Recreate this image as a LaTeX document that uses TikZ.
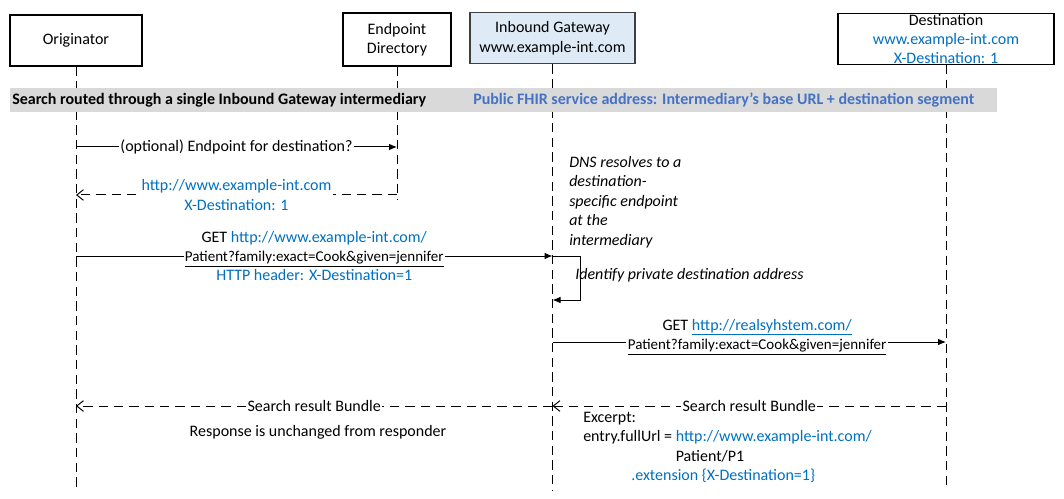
\documentclass[tikz,border=0pt]{standalone}
\usepackage{fontspec}
\setmainfont{Carlito}
\usetikzlibrary{arrows.meta}
\definecolor{linkblue}{HTML}{0070C0}
\definecolor{bandblue}{HTML}{4472C4}
\definecolor{bandgray}{HTML}{D9D9D9}
\definecolor{gwfill}{HTML}{DEEBF7}
\definecolor{gwline}{HTML}{404040}
\newcommand{\querytext}{\fontsize{11.25}{14.5}\selectfont\underline{Patient?family:exact=Cook\&given=jennifer}}

\begin{document}
\begin{tikzpicture}[
		x=0.75pt, y=-0.75pt,
		font=\fontsize{12}{14.5}\selectfont,
		lane/.style={draw, line width=0.8pt, inner sep=0pt, align=center},
		lifeline/.style={line width=0.75pt, dash pattern=on 7pt off 4pt},
		arrow/.style={line width=0.75pt, -{Latex[length=6pt,width=5pt]}},
		rarrow/.style={line width=0.75pt, dash pattern=on 7pt off 4.5pt, -{Straight Barb[length=5pt,width=8pt]}},
		msg/.style={fill=white, inner sep=1pt, align=center},
		note/.style={font=\fontsize{12}{14.6}\selectfont\itshape, align=left, inner sep=0pt},
	]
		\useasboundingbox (0,0) rectangle (1064,499);

		% participants
		\node at (76,40.5) (orig) [lane, minimum width=99pt, minimum height=38.25pt] {Originator};
		\node at (397,39.5) (epd) [lane, minimum width=81pt, minimum height=39.75pt] {Endpoint\\Directory};
		\node at (552.5,38.3) (igw) [lane, draw=gwline, fill=gwfill, minimum width=123.75pt, minimum height=38.25pt] {Inbound Gateway\\www.example-int.com};
		\node at (946,39) (dest) [lane, minimum width=162pt, minimum height=38.25pt] {};
		\node at (dest.center) (destlbl) [align=center, inner sep=0pt] {Destination\\\textcolor{linkblue}{www.example-int.com}\\\textcolor{linkblue}{X-Destination: 1}};

		% lifelines
		\coordinate (bottom) at (0,490);
		\coordinate (epdend) at (0,200);
		\draw[lifeline] (orig.south) -- (orig |- bottom);
		\draw[lifeline] (epd.south) -- (epd |- epdend);
		\draw[lifeline] (igw.south) -- (igw |- bottom);
		\draw[lifeline] (dest.south) -- (dest |- bottom);

		% title band
		\node at (10,88) (band) [anchor=north west, fill=bandgray, minimum width=740.25pt, minimum height=18pt, inner sep=0pt] {};
		\node at (12,100) (bandtitle) [anchor=west, inner sep=0pt, font=\fontsize{12}{14.5}\selectfont\bfseries] {Search routed through a single Inbound Gateway intermediary};
		\node at (473,100) (bandaddr) [anchor=west, inner sep=0pt, text=bandblue, font=\fontsize{12}{14.5}\selectfont\bfseries] {Public FHIR service address: Intermediary’s base URL + destination segment};

		% messages
		\coordinate (m1) at (0,147);
		\coordinate (m2) at (0,195);
		\coordinate (m3) at (0,256);
		\coordinate (m4) at (0,300);
		\coordinate (m5) at (0,342);
		\coordinate (m6) at (0,406);

		\draw[arrow] (orig |- m1) -- node[msg]{(optional) Endpoint for destination?} (epd |- m1);
		\draw[rarrow] (epd |- m2) -- node[msg, text=linkblue]{http://www.example-int.com\\X-Destination: 1} (orig |- m2);
		\draw[arrow] (orig |- m3) -- node[msg]{GET \textcolor{linkblue}{http://www.example-int.com/}\\\querytext\\\textcolor{linkblue}{HTTP header: X-Destination=1}} (igw |- m3);

		\node at (569,202) (dnsnote) [note, anchor=west] {DNS resolves to a\\destination-\\specific endpoint\\at the\\intermediary};
		\draw[arrow] (igw |- m3) -- ++(28,0) |- (igw |- m4);
		\node at (575,275) (idnote) [note, anchor=west] {Identify private destination address};

		\draw[arrow] (igw |- m5) -- node[msg, pos=0.52, yshift=3.75pt]{GET \textcolor{linkblue}{\underline{http://realsyhstem.com/}}\\\querytext} (dest |- m5);

		\draw[rarrow] (dest |- m6) -- node[msg]{Search result Bundle} (igw |- m6);
		\draw[rarrow] (igw |- m6) -- node[msg]{Search result Bundle} (orig |- m6);

		\node at (583,412) (excerpt) [anchor=north west, align=left, inner sep=0pt] {Excerpt:\\entry.fullUrl = \textcolor{linkblue}{http://www.example-int.com/}\\\phantom{entry.fullUrl = }Patient/P1\\\hspace*{36pt}\textcolor{linkblue}{.extension \{X-Destination=1\}}};
		\node at (318,432) (resp) [inner sep=0pt] {Response is unchanged from responder};
	\end{tikzpicture}
\end{document}
